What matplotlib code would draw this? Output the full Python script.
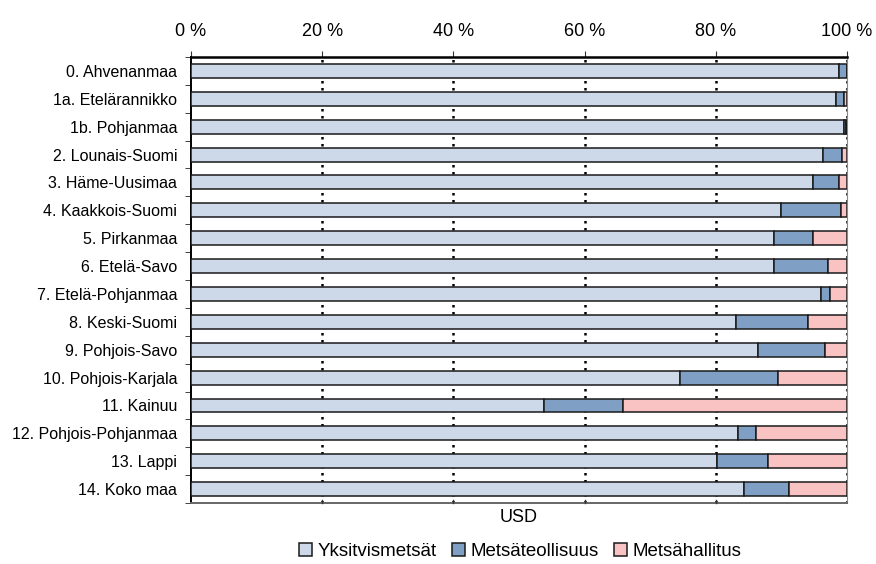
import matplotlib.pyplot as plt
import numpy as np

plt.rcParams['font.family'] = ['Liberation Sans', 'DejaVu Sans']

# Alueet ja osuudet (%)
alueet = ["0. Ahvenanmaa", "1a. Etelärannikko", "1b. Pohjanmaa", "2. Lounais-Suomi",
          "3. Häme-Uusimaa", "4. Kaakkois-Suomi", "5. Pirkanmaa", "6. Etelä-Savo",
          "7. Etelä-Pohjanmaa", "8. Keski-Suomi", "9. Pohjois-Savo", "10. Pohjois-Karjala",
          "11. Kainuu", "12. Pohjois-Pohjanmaa", "13. Lappi", "14. Koko maa"]
yksityis = [98.8, 98.3, 99.6, 96.3, 94.8, 89.9, 88.8, 88.8, 96.0, 83.0, 86.4, 74.6, 53.8, 83.4, 80.1, 84.3]
teollisuus = [1.2, 1.3, 0.3, 2.9, 4.0, 9.1, 6.0, 8.3, 1.4, 11.1, 10.3, 14.9, 12.1, 2.7, 7.9, 6.9]
hallitus = [0.0, 0.4, 0.1, 0.8, 1.2, 1.0, 5.2, 2.9, 2.6, 5.9, 3.3, 10.5, 34.1, 13.9, 12.0, 8.8]
sarjat = ["Yksitvismetsät", "Metsäteollisuus", "Metsähallitus"]
xticks = [0, 20, 40, 60, 80, 100]

varit = ["#CDD9E8", "#7F9FC5", "#FAC3C3"]

fig = plt.figure(figsize=(8.76, 5.64), dpi=100)
ax = fig.add_axes([0.218, 0.108, 0.749, 0.791])

y = np.arange(len(alueet))
vasen = np.zeros(len(alueet))
for arvot, nimi, vari in zip([yksityis, teollisuus, hallitus], sarjat, varit):
    arvot = np.array(arvot)
    ax.barh(y, arvot, left=vasen, height=0.5, color=vari, edgecolor="#1a1a1a",
            linewidth=1.1, label=nimi, zorder=3)
    vasen += arvot

ax.set_xlim(0, 100)
ax.set_ylim(len(alueet) - 0.5, -0.5)

# Pystysuorat pisteviivat
for xv in xticks[1:]:
    ax.axvline(xv, color="black", linestyle=(0, (1.0, 1.8)), linewidth=1.8, zorder=1)

ax.xaxis.tick_top()
ax.set_xticks(xticks)
ax.set_xticklabels([f"{v} %" for v in xticks], fontsize=13)
ax.tick_params(axis="x", which="both", top=True, bottom=False, direction="out",
               length=4.5, pad=8, color="#333333")

ax.set_yticks(y)
ax.set_yticklabels(alueet, fontsize=11.5)
ax.set_yticks(np.arange(len(alueet) + 1) - 0.5, minor=True)
ax.tick_params(axis="y", which="major", length=0, pad=10)
ax.tick_params(axis="y", which="minor", length=4.5, direction="out", color="#222222")

ax.spines["top"].set_linewidth(1.8)
ax.spines["left"].set_linewidth(1.4)
ax.spines["right"].set_color("#888888")
ax.spines["bottom"].set_color("#666666")
ax.spines["bottom"].set_linewidth(1.4)

# Alareunan pienet merkit
for xv in xticks[1:-1]:
    ax.plot([xv, xv], [len(alueet) - 0.5, len(alueet) - 0.62], color="#333333",
            linewidth=1.0, zorder=4, clip_on=False)

ax.text(50, len(alueet) - 0.5 + 0.22, "USD", ha="center", va="top", fontsize=13)

fig.legend(loc="center", bbox_to_anchor=(0.594, 0.022), ncol=3, frameon=False,
           fontsize=13.5, handlelength=0.7, handleheight=0.7, handletextpad=0.3,
           columnspacing=0.8)

fig.savefig("out.png", dpi=100)
